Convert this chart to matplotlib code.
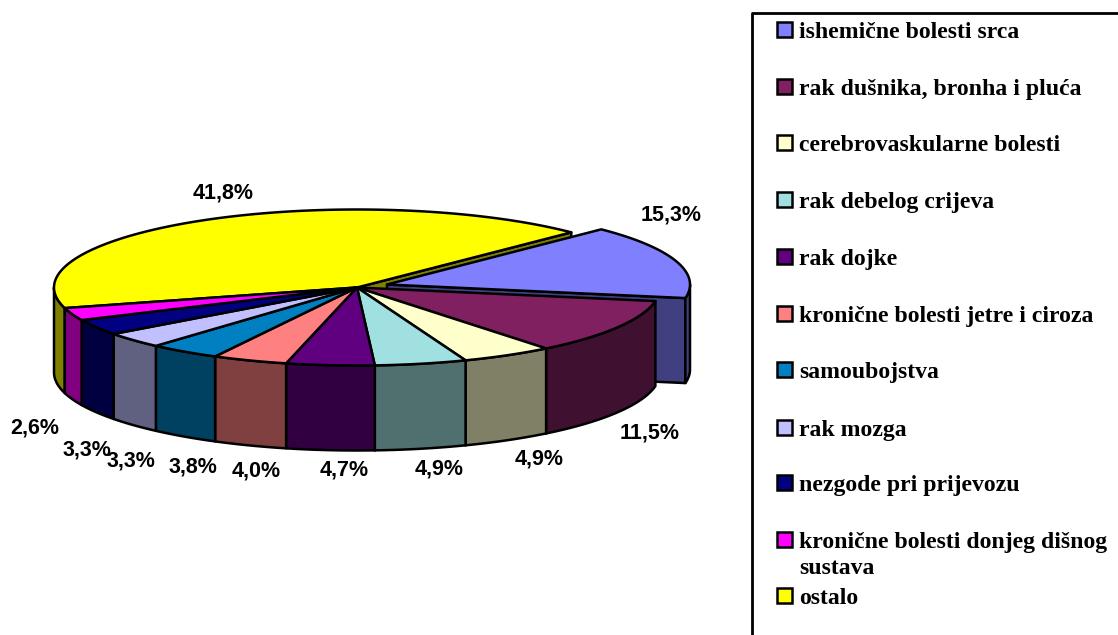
import numpy as np
import matplotlib
matplotlib.use("Agg")
import matplotlib.pyplot as plt
from matplotlib.patches import Polygon, Rectangle
from matplotlib.colors import to_rgb

# --------------------------
# Data
# --------------------------
categories = ["ishemične bolesti srca", "rak dušnika, bronha i pluća", "cerebrovaskularne bolesti",
              "rak debelog crijeva", "rak dojke", "kronične bolesti jetre i ciroza", "samoubojstva",
              "rak mozga", "nezgode pri prijevozu", "kronične bolesti donjeg dišnog\nsustava", "ostalo"]
values = [15.3, 11.5, 4.9, 4.9, 4.7, 4.0, 3.8, 3.3, 3.3, 2.6, 41.8]
colors = ["#8080FF", "#802060", "#FFFFCC", "#A0E0E0", "#600080", "#FF8080",
          "#0080C0", "#C0C0FF", "#000080", "#FF00FF", "#FFFF00"]
label_x = [671, 650, 539, 439, 344, 256, 193, 131, 87, 35, 223]
label_y = [215, 433, 459, 469, 470, 471, 467, 461, 450, 428, 193]
legend_y = [30, 87, 143, 200, 257, 314, 370, 428, 483, 540, 596]

# pie geometry, in figure pixels
cx, cy = 357, 287.5
rx, ry = 303, 78
depth = 85
start_angle = 45
explode = (30, -3)
lw = 1.8

fig = plt.figure(figsize=(11.18, 6.35), dpi=100)
ax = fig.add_axes([0, 0, 1, 1])
ax.set_xlim(0, 1118)
ax.set_ylim(635, 0)
ax.axis("off")


def rim(a0, a1, ox=0, oy=0, dz=0):
    # clock angles, 0 at the top, clockwise
    t = np.radians(np.linspace(a0, a1, max(2, int(abs(a1 - a0) * 2))))
    return np.column_stack([cx + ox + rx * np.sin(t), cy + oy - ry * np.cos(t) + dz])


def darker(c):
    return tuple(v * 0.5 for v in to_rgb(c))


def add_poly(pts, color, z):
    ax.add_patch(Polygon(pts, closed=True, facecolor=color, edgecolor="black",
                         linewidth=lw, joinstyle="round", zorder=z))


def draw_slice(a0, a1, color, ox=0, oy=0, z=1):
    centre = np.array([[cx + ox, cy + oy]])
    side = darker(color)
    # faces of the cut that look towards the viewer
    end = rim(a1, a1, ox, oy)[:1]
    if 0 < a1 % 360 < 180:
        add_poly(np.vstack([centre, end, end + [0, depth], centre + [0, depth]]), side, z)
    # outer wall, only the front half shows
    lo, hi = max(a0, 90), min(a1, 270)
    if hi > lo:
        add_poly(np.vstack([rim(lo, hi, ox, oy), rim(hi, lo, ox, oy, depth)]), side, z)
    add_poly(np.vstack([centre, rim(a0, a1, ox, oy)]), color, z + 0.5)


# --------------------------
# Pie, back to front
# --------------------------
sweeps = np.array(values) / sum(values) * 360
starts = start_angle + np.concatenate([[0], np.cumsum(sweeps)[:-1]])

# last slice wraps round the back, so it goes first
draw_slice(starts[-1], starts[-1] + sweeps[-1], colors[-1], z=1)
draw_slice(starts[0], starts[0] + sweeps[0], colors[0], explode[0], explode[1], z=2)
for i in range(1, len(values) - 1):
    draw_slice(starts[i], starts[i] + sweeps[i], colors[i], z=3)

for v, x, y in zip(values, label_x, label_y):
    ax.text(x, y, f"{v:.1f}%".replace(".", ","), family="Liberation Sans", fontweight="bold",
            fontsize=15.5, ha="center", va="center", color="black", zorder=5)

# --------------------------
# Legend box, runs off the page
# --------------------------
ax.plot([1118, 752, 752], [13, 13, 635], color="black", linewidth=2, clip_on=False, zorder=6)
for name, color, y in zip(categories, colors, legend_y):
    ax.add_patch(Rectangle((777, y - 8), 15, 15, facecolor=color, edgecolor="black", linewidth=1.8, zorder=6))
    ax.text(799, y - 8, name, family="Liberation Serif", fontweight="bold", fontsize=17.1,
            ha="left", va="top", color="black", linespacing=1.3, zorder=6)

fig.savefig("out.png", dpi=100)
